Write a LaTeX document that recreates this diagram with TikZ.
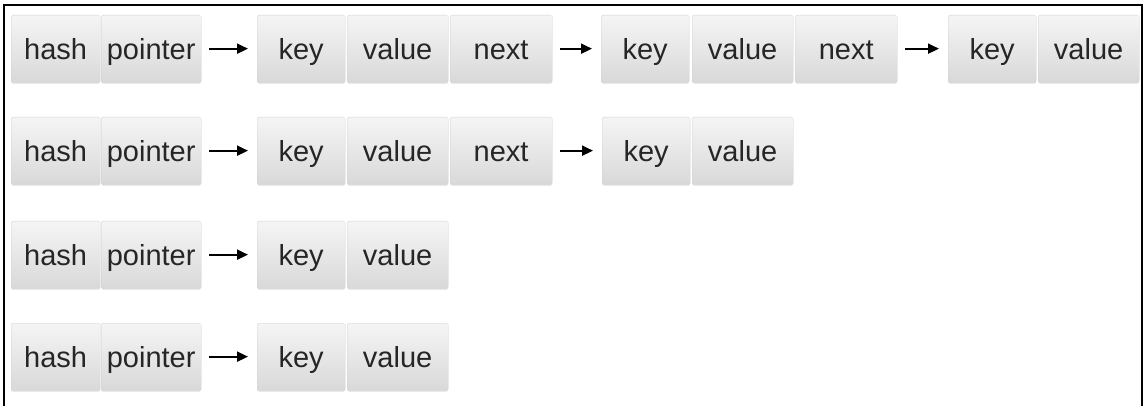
\documentclass[tikz,border=0pt]{standalone}
\usepackage{fontspec}
\setmainfont{Liberation Sans}
\usetikzlibrary{arrows.meta,shadows}
\begin{document}
\begin{tikzpicture}[x=1pt,y=-1pt,
  cell/.style={anchor=north west, minimum height=67pt, inner sep=0pt,
    text height=26pt, text depth=4pt,
    rounded corners=1.5pt, top color=gray!8, bottom color=gray!30,
    draw=gray!35, line width=0.3pt,
    drop shadow={opacity=0.25, shadow xshift=0pt, shadow yshift=-1.5pt},
    text=black!85, font=\fontsize{29}{32}\selectfont},
  hw/.style={cell, minimum width=89pt},
  pw/.style={cell, minimum width=100pt},
  kw/.style={cell, minimum width=88pt},
  vw/.style={cell, minimum width=101pt},
  nw/.style={cell, minimum width=102pt},
  link/.style={line width=2pt, -{Triangle[length=11pt,width=10pt]},
    shorten <=8pt, shorten >=9pt}]
\useasboundingbox (0,0) rectangle (1146,406);
\draw[line width=2.5pt] (4,410) -- (4,5) -- (1142,5) -- (1142,410);
% row 1
\node[hw] (h1) at (11,15) {hash};
\node[pw] (p1) at (101,15) {pointer};
\node[kw] (k1a) at (257,15) {key};
\node[vw] (v1a) at (347,15) {value};
\node[nw] (n1a) at (450,15) {next};
\node[kw] (k1b) at (601,15) {key};
\node[vw] (v1b) at (692,15) {value};
\node[nw] (n1b) at (795,15) {next};
\node[kw] (k1c) at (948,15) {key};
\node[vw] (v1c) at (1038,15) {value};
\draw[link] (p1.east) -- (k1a.west);
\draw[link] (n1a.east) -- (k1b.west);
\draw[link] (n1b.east) -- (k1c.west);
% row 2
\node[hw] (h2) at (11,117) {hash};
\node[pw] (p2) at (101,117) {pointer};
\node[kw] (k2a) at (257,117) {key};
\node[vw] (v2a) at (347,117) {value};
\node[nw] (n2a) at (450,117) {next};
\node[kw] (k2b) at (602,117) {key};
\node[vw] (v2b) at (692,117) {value};
\draw[link] (p2.east) -- (k2a.west);
\draw[link] (n2a.east) -- (k2b.west);
% row 3
\node[hw] (h3) at (11,221) {hash};
\node[pw] (p3) at (101,221) {pointer};
\node[kw] (k3a) at (257,221) {key};
\node[vw] (v3a) at (347,221) {value};
\draw[link] (p3.east) -- (k3a.west);
% row 4
\node[hw] (h4) at (11,323) {hash};
\node[pw] (p4) at (101,323) {pointer};
\node[kw] (k4a) at (257,323) {key};
\node[vw] (v4a) at (347,323) {value};
\draw[link] (p4.east) -- (k4a.west);
\end{tikzpicture}
\end{document}
